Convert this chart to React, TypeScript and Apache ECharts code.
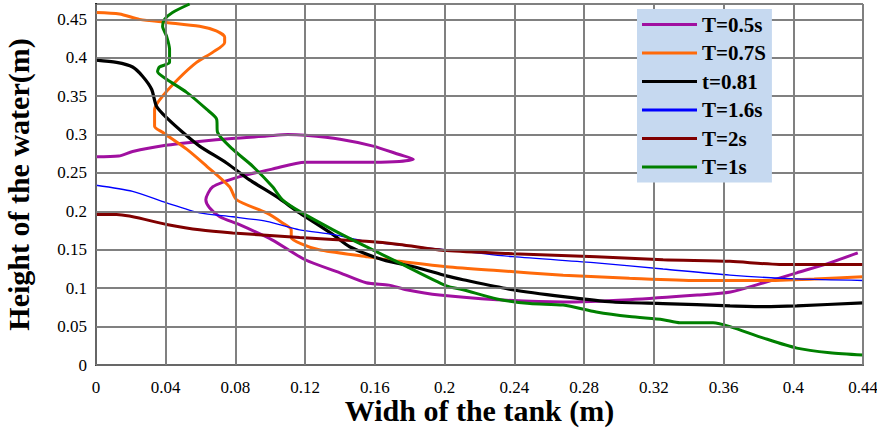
import React, { useEffect, useRef } from "react";
import * as echarts from "echarts";

const xTicks = [0, 0.04, 0.08, 0.12, 0.16, 0.2, 0.24, 0.28, 0.32, 0.36, 0.4, 0.44];
const yTicks = [0, 0.05, 0.1, 0.15, 0.2, 0.25, 0.3, 0.35, 0.4, 0.45];

const seriesNames = ["T=0.5s", "T=0.7S", "t=0.81", "T=1.6s", "T=2s", "T=1s"];
const seriesColors = ["#A010A0", "#FF6A0A", "#000000", "#0000FF", "#800000", "#008000"];
const seriesWidths = [3, 3, 3.2, 1.3, 3, 3];

const t05: number[][] = [
  [0, 0.271], [0.013, 0.272], [0.021, 0.278], [0.04, 0.286], [0.059, 0.291], [0.078, 0.295],
  [0.098, 0.298], [0.11, 0.3], [0.12, 0.299], [0.14, 0.294], [0.159, 0.285], [0.174, 0.274],
  [0.182, 0.268], [0.174, 0.265], [0.159, 0.264], [0.12, 0.264], [0.101, 0.255], [0.082, 0.245],
  [0.067, 0.232], [0.063, 0.215], [0.065, 0.205], [0.071, 0.193], [0.082, 0.183], [0.101, 0.163],
  [0.12, 0.137], [0.14, 0.12], [0.155, 0.107], [0.168, 0.104], [0.178, 0.098], [0.197, 0.091],
  [0.23, 0.085], [0.268, 0.082], [0.306, 0.085], [0.345, 0.091], [0.364, 0.095], [0.383, 0.107],
  [0.402, 0.12], [0.421, 0.133], [0.437, 0.146],
];
const t07: number[][] = [
  [0, 0.459], [0.0135, 0.457], [0.025, 0.45], [0.0405, 0.446], [0.0594, 0.441], [0.069, 0.435],
  [0.0738, 0.427], [0.0738, 0.42], [0.0669, 0.407], [0.0577, 0.394], [0.0479, 0.374], [0.0382, 0.35],
  [0.0336, 0.333], [0.0336, 0.311], [0.0382, 0.303], [0.052, 0.281], [0.0634, 0.259], [0.0766, 0.232],
  [0.0807, 0.215], [0.0979, 0.198], [0.107, 0.185], [0.112, 0.176], [0.112, 0.166], [0.1185, 0.157],
  [0.128, 0.15], [0.155, 0.141], [0.174, 0.135], [0.201, 0.128], [0.23, 0.123], [0.268, 0.117],
  [0.306, 0.113], [0.345, 0.11], [0.383, 0.11], [0.412, 0.112], [0.44, 0.115],
];
const t081: number[][] = [
  [0, 0.397], [0.0118, 0.394], [0.021, 0.388], [0.0267, 0.376], [0.0319, 0.359], [0.0347, 0.337],
  [0.0405, 0.322], [0.0497, 0.303], [0.0594, 0.285], [0.0749, 0.263], [0.0881, 0.241], [0.1036, 0.219],
  [0.1168, 0.198], [0.1358, 0.17], [0.1455, 0.154], [0.1645, 0.137], [0.184, 0.127], [0.201, 0.116],
  [0.2106, 0.111], [0.239, 0.098], [0.268, 0.089], [0.2966, 0.082], [0.3253, 0.08], [0.3637, 0.077],
  [0.383, 0.076], [0.402, 0.077], [0.44, 0.081],
];
const t16: number[][] = [
  [0, 0.234], [0.021, 0.226], [0.0405, 0.211], [0.0594, 0.198], [0.0784, 0.193], [0.0979, 0.187],
  [0.1168, 0.176], [0.1358, 0.17], [0.155, 0.161], [0.201, 0.15], [0.239, 0.141], [0.287, 0.133],
  [0.3253, 0.125], [0.3637, 0.117], [0.402, 0.112], [0.44, 0.11],
];
const t2: number[][] = [
  [0, 0.196], [0.0118, 0.196], [0.0405, 0.183], [0.0594, 0.176], [0.0784, 0.172], [0.1168, 0.166],
  [0.155, 0.161], [0.174, 0.157], [0.201, 0.149], [0.239, 0.145], [0.287, 0.141], [0.3253, 0.137],
  [0.3637, 0.135], [0.392, 0.131], [0.44, 0.131],
];
const t1: number[][] = [
  [0.0537, 0.47], [0.0439, 0.459], [0.0393, 0.45], [0.0382, 0.441], [0.0405, 0.428], [0.0422, 0.411],
  [0.0422, 0.394], [0.0364, 0.388], [0.0353, 0.382], [0.0405, 0.372], [0.052, 0.355], [0.0634, 0.333],
  [0.0692, 0.32], [0.0697, 0.303], [0.0784, 0.281], [0.0898, 0.259], [0.1013, 0.232], [0.107, 0.215],
  [0.1168, 0.2], [0.136, 0.176], [0.155, 0.154], [0.174, 0.133], [0.201, 0.103], [0.2106, 0.098],
  [0.23, 0.086], [0.249, 0.08], [0.268, 0.078], [0.287, 0.069], [0.306, 0.063], [0.3253, 0.059],
  [0.335, 0.055], [0.354, 0.055], [0.3637, 0.05], [0.383, 0.035], [0.402, 0.022], [0.421, 0.016],
  [0.44, 0.013],
];
const seriesData = [t05, t07, t081, t16, t2, t1];

const SERIF = "Liberation Serif";
const GREY = "#808080";

export default function App() {
  const ref = useRef<HTMLDivElement>(null);
  useEffect(() => {
    if (!ref.current) return;
    const chart = echarts.init(ref.current, undefined, { renderer: "svg" });
    const gridLines = [
      ...xTicks.map((v) => ({ xAxis: v })),
      ...yTicks.map((v) => ({ yAxis: v })),
    ];
    chart.setOption({
      animation: false,
      grid: { left: 96, right: 14, top: 4, bottom: 63, outerBoundsMode: "none" },
      legend: {
        orient: "vertical",
        left: 637,
        top: 9,
        z: 10,
        padding: [5, 6, 5, 5],
        backgroundColor: "#C6D9F0",
        itemWidth: 55,
        itemHeight: 20,
        itemGap: 7.5,
        data: seriesNames.map((n) => ({ name: n, icon: "path://M0,8.5L55,8.5L55,11.5L0,11.5Z" })),
        textStyle: { fontFamily: SERIF, fontWeight: "bold", fontSize: 21, color: "#000000" },
      },
      xAxis: [
        {
          type: "value",
          min: 0,
          max: 0.44,
          interval: 0.04,
          name: "Widh of the tank (m)",
          nameLocation: "middle",
          nameGap: 30,
          nameMoveOverlap: false,
          nameTextStyle: { fontFamily: SERIF, fontWeight: "bold", fontSize: 30, color: "#000000", verticalAlign: "top" },
          axisLine: { show: true, lineStyle: { color: GREY, width: 2 } },
          axisTick: { show: false },
          axisLabel: { fontFamily: SERIF, fontSize: 17, color: "#000000", margin: 14 },
          splitLine: { show: true, lineStyle: { color: GREY, width: 2 } },
        },
        {
          type: "value",
          position: "top",
          min: 0,
          max: 0.44,
          axisLine: { show: true, lineStyle: { color: "#000000", width: 1.5 } },
          axisTick: { show: false },
          axisLabel: { show: false },
          splitLine: { show: false },
        },
      ],
      yAxis: [
        {
          type: "value",
          min: 0,
          max: 0.47,
          interval: 0.05,
          name: "Height of the water(m)",
          nameLocation: "middle",
          nameGap: 63,
          nameMoveOverlap: false,
          nameTextStyle: { fontFamily: SERIF, fontWeight: "bold", fontSize: 30, color: "#000000" },
          axisLine: { show: true, lineStyle: { color: GREY, width: 2 } },
          axisTick: { show: false },
          axisLabel: { fontFamily: SERIF, fontSize: 17, color: "#000000", margin: 9 },
          splitLine: { show: true, lineStyle: { color: GREY, width: 2 } },
        },
        {
          type: "value",
          position: "right",
          min: 0,
          max: 0.47,
          axisLine: { show: true, lineStyle: { color: "#000000", width: 2 } },
          axisTick: { show: false },
          axisLabel: { show: false },
          splitLine: { show: false },
        },
      ],
      series: [
        {
          name: "grid",
          type: "line",
          data: [[0, 0]],
          showSymbol: false,
          silent: true,
          z: 1,
          lineStyle: { width: 0 },
          markLine: {
            silent: true,
            symbol: ["none", "none"],
            label: { show: false },
            lineStyle: { color: GREY, width: 1.6, type: "solid" },
            emphasis: { disabled: true },
            data: gridLines,
          },
        },
        ...seriesNames.map((name, i) => ({
          name,
          type: "line",
          data: seriesData[i],
          showSymbol: false,
          smooth: 0.25,
          z: 3,
          itemStyle: { color: seriesColors[i] },
          lineStyle: { color: seriesColors[i], width: seriesWidths[i] },
        })),
      ],
    });
    return () => chart.dispose();
  }, []);
  return <div ref={ref} style={{ width: 877, height: 428, position: "absolute", left: 0, top: 0 }} />;
}
